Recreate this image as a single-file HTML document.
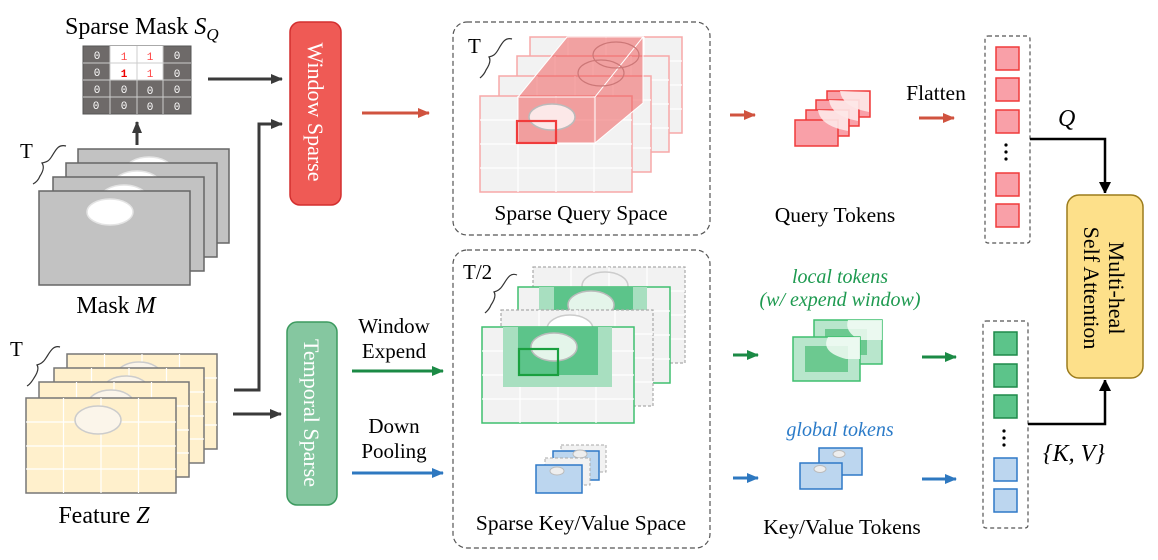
<!DOCTYPE html>
<html><head><meta charset="utf-8"><style>
html,body{margin:0;padding:0;background:#fff;}
svg{display:block;font-family:"Liberation Serif",serif;}
</style></head><body>
<svg width="1158" height="560" viewBox="0 0 1158 560" xmlns="http://www.w3.org/2000/svg">
<defs>
<marker id="ak" markerWidth="12" markerHeight="10" refX="11" refY="5" orient="auto" markerUnits="userSpaceOnUse"><path d="M0,0 L12,5 L0,10z" fill="#3a3a3a"/></marker>
<marker id="ab" markerWidth="10" markerHeight="12" refX="11" refY="6" orient="auto" markerUnits="userSpaceOnUse"><path d="M0,0 L12,6 L0,12z" fill="#000"/></marker>
<marker id="ar" markerWidth="12" markerHeight="10" refX="11" refY="5" orient="auto" markerUnits="userSpaceOnUse"><path d="M0,0 L12,5 L0,10z" fill="#d0533f"/></marker>
<marker id="ag" markerWidth="12" markerHeight="10" refX="11" refY="5" orient="auto" markerUnits="userSpaceOnUse"><path d="M0,0 L12,5 L0,10z" fill="#1b8a45"/></marker>
<marker id="abl" markerWidth="12" markerHeight="10" refX="11" refY="5" orient="auto" markerUnits="userSpaceOnUse"><path d="M0,0 L12,5 L0,10z" fill="#2e78c0"/></marker>
<g id="fz"><rect x="0" y="0" width="150" height="95" fill="#fff0cc" stroke="#777" stroke-width="1.5"/><path d="M37.5,0V95M75,0V95M112.5,0V95M0,24H150M0,48H150M0,71H150" stroke="#fff" stroke-width="1.2"/><ellipse cx="72" cy="22" rx="23" ry="14" fill="#fbf5ea" stroke="#ccc" stroke-width="1.5"/></g>
<g id="fm"><rect x="0" y="0" width="151" height="94" fill="#c2c2c2" stroke="#666" stroke-width="1.5"/><ellipse cx="71" cy="21" rx="23" ry="13" fill="#fff" stroke="#e4e4e4" stroke-width="1.5"/></g>
<g id="fq"><rect x="0" y="0" width="152" height="96" fill="#f2f2f2" stroke="#f7a8a8" stroke-width="1.5"/><path d="M38,0V96M76,0V96M114,0V96M0,24H152M0,48H152M0,72H152" stroke="#fff" stroke-width="1.2"/></g>
<g id="fk"><rect x="0" y="0" width="152" height="96" fill="#f2f2f2" stroke="#3fbf6f" stroke-width="1.5"/><path d="M38,0V96M76,0V96M114,0V96M0,24H152M0,48H152M0,72H152" stroke="#fff" stroke-width="1.2"/></g>
<g id="fkd"><rect x="0" y="0" width="152" height="96" fill="#f2f2f2" stroke="#aaa" stroke-width="1.2" stroke-dasharray="3,2"/><path d="M38,0V96M76,0V96M114,0V96M0,24H152M0,48H152M0,72H152" stroke="#fff" stroke-width="1.2"/></g>
</defs>

<!-- Sparse Mask -->
<text x="65" y="34" font-size="24">Sparse Mask <tspan font-style="italic">S</tspan><tspan font-style="italic" font-size="17" dy="6">Q</tspan></text>
<rect x="83" y="46" width="108" height="68" fill="#6e6a69" stroke="#555"/>
<rect x="110" y="46" width="53" height="34" fill="#fff"/>
<path d="M110,46V114M137,46V114M163,46V114M83,63H191M83,80H191M83,97H191" stroke="#ccc" stroke-width="1"/>
<g font-family="Liberation Mono,monospace" font-size="11" text-anchor="middle" fill="#fff">
<text x="97" y="59">0</text><text x="177" y="59">0</text><text x="97" y="76">0</text><text x="177" y="77">0</text>
<text x="97" y="93">0</text><text x="124" y="93">0</text><text x="150" y="94">0</text><text x="177" y="93">0</text>
<text x="96" y="109">0</text><text x="124" y="109">0</text><text x="150" y="110">0</text><text x="177" y="110">0</text>
<text x="124" y="60" fill="#f44">1</text><text x="150" y="60" fill="#f44">1</text><text x="124" y="77" fill="#e00" font-weight="bold">1</text><text x="150" y="77" fill="#f44">1</text>
</g>
<line x1="137" y1="145" x2="137" y2="122" stroke="#3a3a3a" stroke-width="3" marker-end="url(#ak)"/>
<line x1="208" y1="79" x2="282" y2="79" stroke="#3a3a3a" stroke-width="3" marker-end="url(#ak)"/>

<!-- Mask M -->
<text x="20" y="158" font-size="21">T</text>
<path d="M66,146 C58,144 56,150 52,156 C49,161 47,162 42,163 C44,166 44,170 40,176 C38,181 35,183 33,184" fill="none" stroke="#333" stroke-width="1.2"/>
<use href="#fm" x="78" y="149"/><use href="#fm" x="66" y="163"/><use href="#fm" x="53" y="177"/><use href="#fm" x="39" y="191"/>
<text x="116" y="313" font-size="24" text-anchor="middle">Mask <tspan font-style="italic">M</tspan></text>

<!-- Feature Z -->
<text x="10" y="356" font-size="21">T</text>
<path d="M60,347 C53,345 50,352 46,358 C43,363 40,364 37,365 C39,368 38,372 34,378 C31,383 29,385 27,386" fill="none" stroke="#333" stroke-width="1.2"/>
<use href="#fz" x="67" y="354"/><use href="#fz" x="54" y="368"/><use href="#fz" x="39" y="382"/><use href="#fz" x="26" y="398"/>
<text x="104" y="523" font-size="24" text-anchor="middle">Feature <tspan font-style="italic">Z</tspan></text>

<!-- connectors left -->
<path d="M234,390 H259 V124 H282" fill="none" stroke="#3a3a3a" stroke-width="3" marker-end="url(#ak)"/>
<line x1="233" y1="414" x2="281" y2="414" stroke="#3a3a3a" stroke-width="3" marker-end="url(#ak)"/>

<!-- Window Sparse box -->
<rect x="290" y="22" width="51" height="183" rx="10" fill="#ef5a55" stroke="#d32f2f" stroke-width="1.5"/>
<text transform="translate(308,112) rotate(90)" text-anchor="middle" font-size="22" fill="#fff">Window Sparse</text>
<!-- Temporal Sparse box -->
<rect x="287" y="322" width="50" height="183" rx="10" fill="#85c7a0" stroke="#3c9a5f" stroke-width="1.5"/>
<text transform="translate(304,413) rotate(90)" text-anchor="middle" font-size="22" fill="#fff">Temporal Sparse</text>

<line x1="362" y1="113" x2="429" y2="113" stroke="#d0533f" stroke-width="3" marker-end="url(#ar)"/>
<text x="394" y="333" font-size="21" text-anchor="middle">Window</text>
<text x="394" y="358" font-size="21" text-anchor="middle">Expend</text>
<line x1="352" y1="371" x2="443" y2="371" stroke="#1b8a45" stroke-width="3" marker-end="url(#ag)"/>
<text x="394" y="433" font-size="21" text-anchor="middle">Down</text>
<text x="394" y="458" font-size="21" text-anchor="middle">Pooling</text>
<line x1="352" y1="473" x2="443" y2="473" stroke="#2e78c0" stroke-width="3" marker-end="url(#abl)"/>

<!-- Query space -->
<rect x="453" y="22" width="257" height="213" rx="14" fill="none" stroke="#555" stroke-width="1.2" stroke-dasharray="5,3"/>
<text x="468" y="53" font-size="21">T</text>
<path d="M512,39 C505,37 502,43 498,50 C495,55 493,56 489,57 C491,60 490,64 486,70 C484,75 481,77 480,78" fill="none" stroke="#333" stroke-width="1.2"/>
<use href="#fq" x="530" y="37"/><use href="#fq" x="517" y="56"/><use href="#fq" x="499" y="76"/><use href="#fq" x="480" y="96"/>
<path d="M518,97 L567,37 L643,37 L595,97 Z" fill="rgba(240,80,80,0.5)" stroke="#fff" stroke-width="1"/>
<path d="M595,97 L643,37 L643,103 L595,143 Z" fill="rgba(240,80,80,0.5)" stroke="#fff" stroke-width="1"/>
<ellipse cx="616" cy="55" rx="23" ry="13" fill="none" stroke="#c77" stroke-width="1.2"/>
<ellipse cx="601" cy="73" rx="23" ry="13" fill="none" stroke="#c77" stroke-width="1.2"/>
<rect x="518" y="97" width="77" height="46" fill="rgba(240,90,90,0.55)" stroke="#fff" stroke-width="1"/>
<ellipse cx="552" cy="117" rx="23" ry="13" fill="#fce8e8" stroke="#bbb" stroke-width="1.5"/>
<rect x="517" y="121" width="39" height="22" fill="none" stroke="#f03c3c" stroke-width="2.2"/>
<text x="581" y="220" font-size="21.5" text-anchor="middle">Sparse Query Space</text>

<!-- KV space -->
<rect x="453" y="250" width="257" height="298" rx="14" fill="none" stroke="#555" stroke-width="1.2" stroke-dasharray="5,3"/>
<text x="463" y="279" font-size="21">T/2</text>
<path d="M517,275 C510,272 507,279 503,285 C500,290 497,291 494,292 C496,295 495,299 491,305 C489,310 486,312 485,313" fill="none" stroke="#333" stroke-width="1.2"/>
<use href="#fkd" x="533" y="267"/>
<ellipse cx="605" cy="286" rx="23" ry="14" fill="none" stroke="#ccc" stroke-width="1.5"/>
<use href="#fk" x="518" y="287"/>
<rect x="539" y="287" width="108" height="60" fill="#a8dfc0"/><rect x="554" y="287" width="79" height="45" fill="#5cc48a"/>
<ellipse cx="591" cy="305" rx="23" ry="14" fill="#e4f5ea" stroke="#bbb" stroke-width="1.5"/>
<use href="#fkd" x="501" y="310"/>
<ellipse cx="570" cy="329" rx="23" ry="14" fill="#fff" stroke="#ccc" stroke-width="1.5"/>
<use href="#fk" x="482" y="327"/>
<rect x="503" y="327" width="109" height="60" fill="#a8dfc0"/><rect x="518" y="327" width="80" height="48" fill="#5cc48a"/>
<ellipse cx="554" cy="347" rx="23" ry="14" fill="#e4f5ea" stroke="#bbb" stroke-width="1.5"/>
<rect x="519" y="349" width="39" height="26" fill="none" stroke="#1aa040" stroke-width="2.2"/>
<rect x="561" y="445" width="45" height="27" fill="#f2f2f2" stroke="#aaa" stroke-dasharray="3,2"/>
<rect x="553" y="451" width="46" height="29" fill="#bcd6ef" stroke="#2e78c7" stroke-width="1.5"/>
<ellipse cx="580" cy="454" rx="7" ry="4" fill="#eee" stroke="#bbb"/>
<rect x="545" y="458" width="45" height="27" fill="#f2f2f2" stroke="#aaa" stroke-dasharray="3,2"/>
<rect x="536" y="465" width="46" height="28" fill="#bcd6ef" stroke="#2e78c7" stroke-width="1.5"/>
<ellipse cx="557" cy="471" rx="7" ry="4" fill="#eee" stroke="#bbb"/>
<text x="581" y="530" font-size="21.5" text-anchor="middle">Sparse Key/Value Space</text>

<!-- Query tokens -->
<line x1="730" y1="115" x2="755" y2="115" stroke="#d0533f" stroke-width="3" marker-end="url(#ar)"/>
<g fill="#f9a0a8" stroke="#f03a3a" stroke-width="1.5">
<rect x="827" y="91" width="43" height="26"/><rect x="816" y="100" width="43" height="26"/><rect x="806" y="110" width="43" height="26"/><rect x="795" y="120" width="43" height="26"/>
</g>
<path d="M840,91 Q842,107 869,112 L869,92 Z" fill="#fde8e8" opacity="0.9"/>
<path d="M829,100 Q831,116 858,121 L858,101 Z" fill="#fde8e8" opacity="0.9"/>
<path d="M818,110 Q820,126 848,131 L848,111 Z" fill="#fde8e8" opacity="0.9"/>
<text x="835" y="222" font-size="21.5" text-anchor="middle">Query Tokens</text>
<text x="936" y="100" font-size="21.5" text-anchor="middle">Flatten</text>
<line x1="919" y1="118" x2="954" y2="118" stroke="#d0533f" stroke-width="3" marker-end="url(#ar)"/>
<rect x="985" y="36" width="45" height="207" rx="3" fill="none" stroke="#555" stroke-width="1.2" stroke-dasharray="4,3"/>
<g fill="#f9a0a8" stroke="#f03a3a" stroke-width="1.5">
<rect x="996" y="47" width="23" height="23"/><rect x="996" y="78" width="23" height="23"/><rect x="996" y="110" width="23" height="23"/><rect x="996" y="173" width="23" height="23"/><rect x="996" y="204" width="23" height="23"/>
</g>
<g fill="#000"><circle cx="1006" cy="145" r="1.6"/><circle cx="1006" cy="152" r="1.6"/><circle cx="1006" cy="159" r="1.6"/></g>
<text x="1058" y="126" font-size="24" font-style="italic">Q</text>
<path d="M1030,139 H1105 V193" fill="none" stroke="#000" stroke-width="2.5" marker-end="url(#ab)"/>

<!-- MHSA -->
<rect x="1067" y="195" width="76" height="183" rx="12" fill="#fde08a" stroke="#9c7c1c" stroke-width="1.5"/>
<text transform="translate(1109,288) rotate(90)" text-anchor="middle" font-size="22">Multi-heal</text>
<text transform="translate(1084,288) rotate(90)" text-anchor="middle" font-size="22">Self Attention</text>

<!-- local tokens -->
<text x="840" y="283" font-size="20" font-style="italic" text-anchor="middle" fill="#1e9a50">local tokens</text>
<text x="840" y="306" font-size="20" font-style="italic" text-anchor="middle" fill="#1e9a50">(w/ expend window)</text>
<line x1="733" y1="355" x2="758" y2="355" stroke="#1b8a45" stroke-width="3" marker-end="url(#ag)"/>
<rect x="814" y="320" width="68" height="44" fill="#b8e6cc" stroke="#3fbf6f" stroke-width="1.5"/>
<rect x="825" y="329" width="42" height="26" fill="#6cc990"/>
<path d="M848,320 Q844,332 860,340 L882,340 L882,320 Z" fill="#f3fbf6" opacity="0.85"/>
<rect x="793" y="337" width="67" height="44" fill="#b8e6cc" stroke="#3fbf6f" stroke-width="1.5"/>
<rect x="805" y="346" width="43" height="26" fill="#6cc990"/>
<path d="M828,337 Q820,352 846,359 L860,359 L860,337 Z" fill="#f3fbf6" opacity="0.85"/>
<line x1="922" y1="357" x2="956" y2="357" stroke="#1b8a45" stroke-width="3" marker-end="url(#ag)"/>

<!-- global tokens -->
<text x="840" y="436" font-size="20" font-style="italic" text-anchor="middle" fill="#2b7bc8">global tokens</text>
<line x1="733" y1="478" x2="758" y2="478" stroke="#2e78c0" stroke-width="3" marker-end="url(#abl)"/>
<rect x="819" y="448" width="43" height="27" fill="#bcd6ef" stroke="#2e78c7" stroke-width="1.5"/>
<ellipse cx="839" cy="454" rx="6" ry="3.5" fill="#eee" stroke="#bbb"/>
<rect x="800" y="463" width="42" height="26" fill="#bcd6ef" stroke="#2e78c7" stroke-width="1.5"/>
<ellipse cx="820" cy="469" rx="6" ry="3.5" fill="#eee" stroke="#bbb"/>
<line x1="922" y1="479" x2="956" y2="479" stroke="#2e78c0" stroke-width="3" marker-end="url(#abl)"/>
<text x="842" y="534" font-size="21.5" text-anchor="middle">Key/Value Tokens</text>

<!-- KV column -->
<rect x="983" y="321" width="45" height="207" rx="3" fill="none" stroke="#555" stroke-width="1.2" stroke-dasharray="4,3"/>
<g fill="#5cc48a" stroke="#1e8a4a" stroke-width="1.5">
<rect x="994" y="332" width="23" height="23"/><rect x="994" y="364" width="23" height="23"/><rect x="994" y="395" width="23" height="23"/>
</g>
<g fill="#bcd6ef" stroke="#2e78c7" stroke-width="1.5">
<rect x="994" y="458" width="23" height="23"/><rect x="994" y="489" width="23" height="23"/>
</g>
<g fill="#000"><circle cx="1004" cy="431" r="1.6"/><circle cx="1004" cy="438" r="1.6"/><circle cx="1004" cy="445" r="1.6"/></g>
<path d="M1028,424 H1105 V380" fill="none" stroke="#000" stroke-width="2.5" marker-end="url(#ab)"/>
<text x="1043" y="461" font-size="24" font-style="italic">{K, V}</text>
</svg>
</body></html>
